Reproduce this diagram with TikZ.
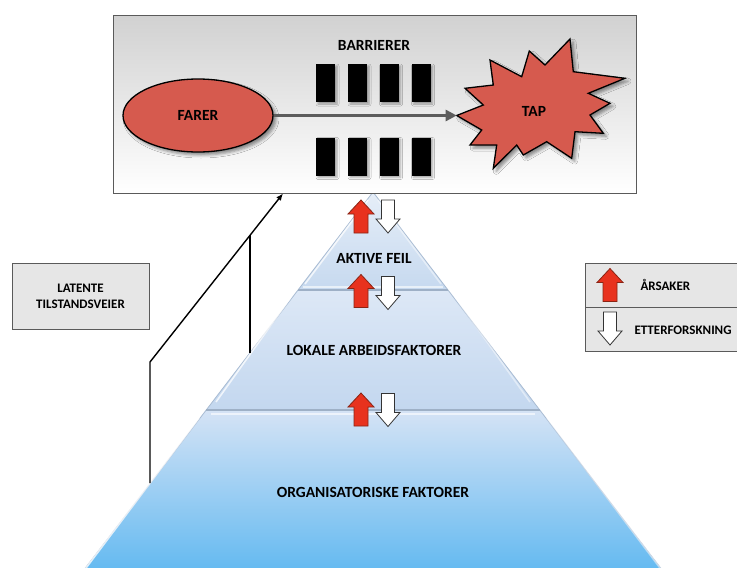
\documentclass[tikz,border=0pt]{standalone}
\usepackage{fontspec}
\setmainfont{Carlito}
\usetikzlibrary{arrows.meta,shadows.blur,shapes.geometric,calc}

\definecolor{hazard}{HTML}{D65A4E}
\definecolor{causered}{HTML}{E8321E}
\definecolor{causeedge}{HTML}{8A2414}
\definecolor{boxedge}{HTML}{5A5A5A}
\definecolor{flowgray}{HTML}{5C5C5C}
\definecolor{panelgray}{HTML}{E6E6E6}
\definecolor{pyredge}{HTML}{A9BCD3}
\definecolor{pyrsep}{HTML}{9EB0C6}
\definecolor{lvlAtop}{HTML}{E6EEF8}
\definecolor{lvlAbot}{HTML}{C6D9EF}
\definecolor{lvlBtop}{HTML}{DDE8F6}
\definecolor{lvlBbot}{HTML}{C3D7EF}
\definecolor{lvlCtop}{HTML}{D5E3F5}
\definecolor{lvlCmid}{HTML}{A4CFF2}
\definecolor{lvlCbot}{HTML}{4FB2F0}

\tikzset{
  bigtxt/.style={font=\bfseries\fontsize{15.5}{18}\selectfont, text=black},
  smalltxt/.style={font=\bfseries\fontsize{13}{16}\selectfont, text=black},
  softshadow/.style={blur shadow={shadow xshift=3pt, shadow yshift=-3pt,
      shadow blur radius=3pt, shadow opacity=45}},
  barrierbox/.style={fill=black, minimum width=19pt, minimum height=38pt,
      inner sep=0pt, blur shadow={shadow xshift=2pt, shadow yshift=-2pt,
      shadow blur radius=2pt, shadow opacity=35}},
  latentpath/.style={black, line width=1.4pt},
  pyrface/.style={draw=pyredge, line width=0.8pt},
  bevel/.style={white, opacity=0.75, line width=1.6pt},
  uparr/.pic={\filldraw[fill=causered, draw=causeedge, line width=0.8pt, line join=miter]
      (0,-16.5) -- (13,-2.5) -- (7,-2.5) -- (7,16.5) -- (-7,16.5) -- (-7,-2.5)
      -- (-13,-2.5) -- cycle;},
  downarr/.pic={\filldraw[fill=white, draw=black!80, line width=0.8pt, line join=miter]
      (0,16.5) -- (12,2.5) -- (6.5,2.5) -- (6.5,-16.5) -- (-6.5,-16.5) -- (-6.5,2.5)
      -- (-12,2.5) -- cycle;}
}

\begin{document}
\begin{tikzpicture}[x=1pt,y=-1pt]
\clip (0,0) rectangle (737,568);
\fill[white] (0,0) rectangle (737,568);

% ---------- pyramid of causes ----------
\coordinate (apex) at (373,192);
\coordinate (l1L) at (298,290);   \coordinate (l1R) at (448,290);
\coordinate (l2L) at (206.2,410); \coordinate (l2R) at (539.8,410);
\coordinate (l3L) at (60.9,600);  \coordinate (l3R) at (685.1,600);

\shade[top color=lvlAtop, bottom color=lvlAbot] (apex) -- (l1R) -- (l1L) -- cycle;
\shade[top color=lvlBtop, bottom color=lvlBbot] (l1L) -- (l1R) -- (l2R) -- (l2L) -- cycle;
\shade[top color=lvlCtop, middle color=lvlCmid, bottom color=lvlCbot]
  (l2L) -- (l2R) -- (l3R) -- (l3L) -- cycle;

% outer edges
\draw[pyrface] (l3L) -- (apex) -- (l3R);
% bevel highlights along the slanted sides
\draw[bevel] (368,200) -- (305,284);
\draw[bevel, opacity=0.45] (378,200) -- (441,284);
\draw[bevel] (291,297) -- (216,402);
\draw[bevel, opacity=0.45] (455,297) -- (530,402);
\draw[bevel] (199,418) -- (65,596);
\draw[bevel, opacity=0.45] (547,418) -- (681,596);
% separators between the levels
\draw[white, opacity=0.6, line width=2pt] (303,286.5) -- (443,286.5);
\draw[pyrsep, line width=1.6pt] (l1L) -- (l1R);
\draw[white, opacity=0.6, line width=2pt] (211,413.5) -- (535,413.5);
\draw[pyrsep, line width=1.6pt] (l2L) -- (l2R);

\node[bigtxt] (aktive) at (374,258) {AKTIVE FEIL};
\node[bigtxt] (lokale) at (374,350) {LOKALE ARBEIDSFAKTORER};
\node[bigtxt] (org) at (373,492) {ORGANISATORISKE FAKTORER};

% cause / investigation arrows between the levels
\pic at (361,216.5) {uparr};   \pic at (388,216.5) {downarr};
\pic at (361,291)   {uparr};   \pic at (388,293)   {downarr};
\pic at (361,409.5) {uparr};   \pic at (388,410)   {downarr};

% ---------- accident model panel ----------
\node (topbox) [draw=boxedge, line width=1pt, top color=black!18, bottom color=white,
  minimum width=523pt, minimum height=178pt, inner sep=0pt, anchor=north west]
  at (113,15) {};

\node[bigtxt] (barlabel) at (374,45.5) {BARRIERER};
\foreach \bx [count=\i] in {325.5,357.5,389,421}{
  \node[barrierbox] (bt\i) at (\bx,83) {};
  \node[barrierbox] (bb\i) at (\bx,156.5) {};
}

\node (farer) [ellipse, draw=black, line width=1.3pt, fill=hazard, softshadow,
  minimum width=150pt, minimum height=73pt, inner sep=0pt, bigtxt]
  at (198,115.5) {FARER};

\filldraw[draw=black, line width=1.3pt, fill=hazard, line join=miter, softshadow]
  plot coordinates {(456.7,115.5) (483.3,105) (465,88.3) (493.3,85) (490,60)
  (521.7,76.7) (529.3,51) (545,65) (570,39) (573.3,71.7) (625,78.3) (588.3,93.3)
  (610,103.3) (590,115) (603.3,133.3) (575,131.7) (571.7,158.3) (546.7,141.7)
  (523.3,155) (516.7,145) (493.3,168.3) (496.7,145) (470,145) (481.7,130)} -- cycle;
\coordinate (taptip) at (456.7,115.5);
\node[bigtxt] (tap) at (534,111) {TAP};

\draw[flowgray, line width=2.6pt, -{Triangle[length=11pt,width=11pt]}]
  (farer.east) -- (taptip);

% ---------- latent condition pathways ----------
\node (latent) [draw=boxedge, line width=1pt, fill=panelgray, minimum width=137pt,
  minimum height=66pt, align=center, smalltxt] at (80.5,296)
  {LATENTE\\TILSTANDSVEIER};

\coordinate (latA) at (150,483);
\coordinate (latAbend) at (150,362);
\coordinate (latB) at (250,353);
\coordinate (latjoin) at (250,235);
\coordinate (latend) at (283,193.5);
\draw[latentpath, -{Latex[length=7pt,width=6pt]}] (latA) -- (latAbend) -- (latend);
\draw[latentpath] (latB) -- (latjoin);

% ---------- legend ----------
\node (legend) [draw=boxedge, line width=1pt, fill=panelgray, minimum width=170pt,
  minimum height=88pt, inner sep=0pt, anchor=north west] at (585,263) {};
\draw[boxedge, line width=1pt] (585,307) -- (760,307);
\pic at (610,285) {uparr};
\pic at (610,328.5) {downarr};
\node[smalltxt, anchor=west] (aarsaker) at (637,285) {ÅRSAKER};
\node[smalltxt, anchor=west] (etterf) at (631,330) {ETTERFORSKNING};
\end{tikzpicture}
\end{document}
